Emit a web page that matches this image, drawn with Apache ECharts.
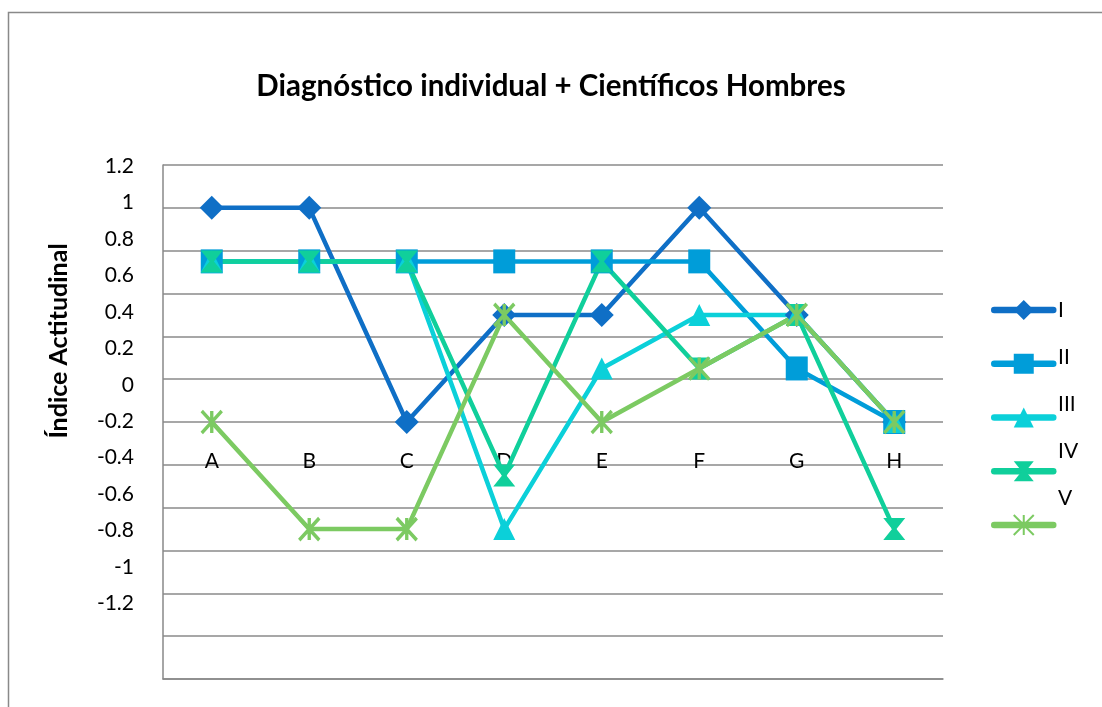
<!DOCTYPE html>
<html><head><meta charset="utf-8">
<script src="https://cdn.jsdelivr.net/npm/echarts@6/dist/echarts.min.js"></script>
<style>html,body{margin:0;padding:0;background:#fff}#c{width:1102px;height:707px}</style>
</head><body><div id="c"></div>
<script>
// ---- data ----
const categories = ['A', 'B', 'C', 'D', 'E', 'F', 'G', 'H'];
const seriesNames = ['I', 'II', 'III', 'IV', 'V'];
const serI   = [1, 1, -0.2, 0.4, 0.4, 1, 0.4, -0.2];
const serII  = [0.7, 0.7, 0.7, 0.7, 0.7, 0.7, 0.1, -0.2];
const serIII = [0.7, 0.7, 0.7, -0.8, 0.1, 0.4, 0.4, -0.2];
const serIV  = [0.7, 0.7, 0.7, -0.5, 0.7, 0.1, 0.4, -0.8];
const serV   = [-0.2, -0.8, -0.8, 0.4, -0.2, 0.1, 0.4, -0.2];
const yTickLabels = [1.2, 1, 0.8, 0.6, 0.4, 0.2, 0, -0.2, -0.4, -0.6, -0.8, -1, -1.2];
const titleText = 'Diagnóstico individual + Científicos Hombres';
const yAxisTitle = 'Índice Actitudinal';

// ---- styles ----
const colors = ['#0F6FC6', '#009DD9', '#0BD0D9', '#10CF9B', '#7CCA62'];
const hourglass = 'path://M0,0 L10,0 L6,5 L10,10 L0,10 L4,5 Z';
const star = 'path://M0,0 L10,10 M10,0 L0,10 M5,0 L5,10';
const symbols = ['diamond', 'rect', 'triangle', hourglass, star];
const symbolSizes = [[24, 24], [22, 24], [22, 22], [22, 22], [20, 22]];
const FONT = 'Lato';
const allData = [serI, serII, serIII, serIV, serV];

const chart = echarts.init(document.getElementById('c'), null, {renderer: 'canvas'});

const series = allData.map((d, i) => ({
  name: seriesNames[i],
  type: 'line',
  xAxisIndex: 0,
  yAxisIndex: 0,
  data: d,
  symbol: symbols[i],
  symbolSize: symbolSizes[i],
  showSymbol: true,
  animation: false,
  lineStyle: {color: colors[i], width: 4.5, cap: i === 1 ? 'butt' : 'round', join: 'round'},
  itemStyle: i === 4
    ? {color: colors[i], borderColor: colors[i], borderWidth: 3.5}
    : {color: colors[i], borderWidth: 0},
  emphasis: {disabled: true}
}));

chart.setOption({
  backgroundColor: '#ffffff',
  animation: false,
  title: {
    text: titleText,
    left: 'center',
    top: 66.5,
    textStyle: {fontFamily: FONT, fontWeight: 'bold', fontSize: 29.5, color: '#000'}
  },
  grid: {left: 163, right: 159, top: 165, bottom: 28, containLabel: false},
  legend: [
    {
      data: seriesNames,
      orient: 'vertical',
      left: 986,
      top: 292.5,
      itemWidth: 59,
      itemHeight: 25,
      itemGap: 31.25,
      formatter: () => '',
      lineStyle: {width: 6.5, cap: 'round'},
      selectedMode: false
    },
    {
      data: seriesNames,
      orient: 'vertical',
      left: 1047,
      top: 294.5,
      icon: 'none',
      itemWidth: 1,
      itemHeight: 21,
      itemGap: 26,
      selectedMode: false,
      textStyle: {fontFamily: FONT, fontSize: 21, color: '#000'}
    }
  ],
  xAxis: {
    type: 'category',
    data: categories,
    boundaryGap: true,
    axisLine: {show: true, onZero: false, lineStyle: {color: '#898989', width: 1.5}},
    axisTick: {show: false},
    splitLine: {show: false},
    axisLabel: {margin: -228, fontFamily: FONT, fontSize: 21, color: '#000', interval: 0}
  },
  yAxis: [
    {
      type: 'value',
      min: -1.64,
      max: 1.24,
      axisLine: {show: true, onZero: false, lineStyle: {color: '#898989', width: 1.5}},
      axisTick: {show: false},
      axisLabel: {show: false},
      splitLine: {show: false}
    },
    {
      type: 'value',
      min: 0,
      max: 12,
      interval: 1,
      axisLine: {show: false},
      axisTick: {show: false},
      axisLabel: {show: false},
      splitLine: {show: true, lineStyle: {color: '#8a8a8a', width: 1.5}}
    },
    {
      type: 'value',
      position: 'left',
      min: -1.614,
      max: 1.2055,
      axisLine: {show: false},
      axisTick: {show: false},
      splitLine: {show: false},
      axisLabel: {
        customValues: yTickLabels,
        margin: 29,
        fontFamily: FONT,
        fontSize: 21,
        color: '#000',
        formatter: v => String(Math.round(v * 10) / 10)
      }
    }
  ],
  graphic: [
    {
      type: 'rect',
      silent: true,
      z: -10,
      shape: {x: 8.5, y: 12.5, width: 1200, height: 1000},
      style: {fill: 'none', stroke: '#898989', lineWidth: 1.5}
    },
    {
      type: 'text',
      x: 59,
      y: 341,
      rotation: Math.PI / 2,
      style: {
        text: yAxisTitle,
        font: 'bold 25px ' + FONT,
        fill: '#000',
        align: 'center',
        verticalAlign: 'middle'
      }
    }
  ],
  series: series
});
</script>
</body></html>
